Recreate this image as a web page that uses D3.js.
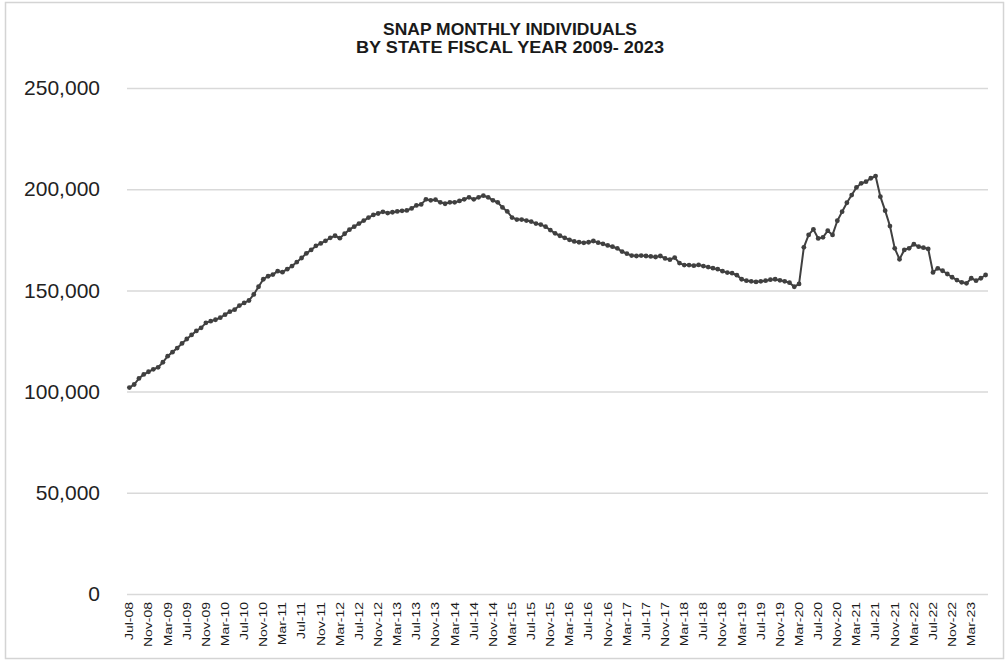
<!DOCTYPE html>
<html>
<head>
<meta charset="utf-8">
<script src="https://d3js.org/d3.v7.min.js"></script>
<style>
  body { margin: 0; background: #fff; }
  svg { display: block; font-family: "Liberation Sans", Arial, sans-serif; }
</style>
</head>
<body>
<div id="chart"></div>
<script>
// Monthly individuals (thousands), Jul-08 .. Jun-23, one row per state fiscal year
var fy2009 = [102.0, 103.5, 106.5, 108.5, 109.8, 111.0, 112.0, 114.5, 117.5, 119.5, 121.5, 123.8];
var fy2010 = [126.0, 128.0, 130.0, 131.5, 134.0, 134.8, 135.5, 136.5, 138.0, 139.5, 140.5, 142.5];
var fy2011 = [143.8, 145.0, 148.0, 151.8, 155.5, 157.0, 157.8, 159.5, 159.0, 160.5, 162.0, 164.0];
var fy2012 = [166.0, 168.3, 170.0, 172.0, 173.2, 174.5, 176.0, 177.0, 175.8, 178.0, 180.0, 181.5];
var fy2013 = [183.0, 184.5, 186.0, 187.3, 188.0, 188.8, 188.2, 188.6, 189.0, 189.3, 189.5, 190.5];
var fy2014 = [192.0, 192.5, 195.0, 194.5, 194.8, 193.5, 192.8, 193.5, 193.5, 194.2, 195.0, 196.0];
var fy2015 = [195.0, 196.0, 196.8, 196.0, 194.5, 193.5, 191.0, 189.0, 186.0, 185.0, 185.0, 184.5];
var fy2016 = [184.0, 183.0, 182.5, 181.5, 179.8, 178.2, 177.0, 176.0, 175.0, 174.2, 173.8, 173.5];
var fy2017 = [173.8, 174.4, 173.6, 173.0, 172.2, 171.6, 170.8, 169.2, 168.2, 167.2, 167.0, 167.2];
var fy2018 = [167.0, 166.8, 166.5, 167.0, 165.8, 165.2, 166.2, 163.5, 162.5, 162.5, 162.2, 162.6];
var fy2019 = [162.0, 161.5, 161.0, 160.5, 159.5, 158.8, 158.5, 157.5, 155.5, 154.8, 154.5, 154.2];
var fy2020 = [154.5, 154.8, 155.3, 155.5, 155.0, 154.5, 153.8, 151.8, 153.2, 171.3, 177.4, 180.2];
var fy2021 = [175.7, 176.2, 179.5, 177.4, 184.4, 188.9, 193.3, 197.1, 200.9, 202.9, 203.7, 205.4];
var fy2022 = [206.5, 196.3, 189.4, 181.8, 170.8, 165.4, 170.0, 170.8, 172.8, 171.6, 171.1, 170.5];
var fy2023 = [158.9, 160.9, 159.7, 158.1, 156.5, 155.1, 154.0, 153.5, 156.0, 154.8, 156.0, 157.6];

var monthNames = ["Jul", "Aug", "Sep", "Oct", "Nov", "Dec", "Jan", "Feb", "Mar", "Apr", "May", "Jun"];
var yTicks = [0, 50000, 100000, 150000, 200000, 250000];
var titleLines = ["SNAP MONTHLY INDIVIDUALS", "BY STATE FISCAL YEAR 2009- 2023"];

var years = [fy2009, fy2010, fy2011, fy2012, fy2013, fy2014, fy2015, fy2016,
             fy2017, fy2018, fy2019, fy2020, fy2021, fy2022, fy2023];

// build month labels like "Jul-08"
var data = [];
years.forEach((vals, y) => {
    vals.forEach((v, m) => {
        var yr = m < 6 ? 2008 + y : 2009 + y;
        data.push({
            label: monthNames[m] + "-" + String(yr % 100).padStart(2, "0"),
            value: v * 1000
        });
    });
});

var svgWidth = 1006;
var svgHeight = 661;
var margin = { top: 88, right: 18, bottom: 67, left: 127 };
var width = svgWidth - margin.left - margin.right;
var height = svgHeight - margin.top - margin.bottom;

var svg = d3.select("#chart").append("svg")
    .attr("width", svgWidth)
    .attr("height", svgHeight);

// outer frame
svg.append("rect")
    .attr("x", 5.5).attr("y", 2.5)
    .attr("width", 998).attr("height", 656)
    .attr("fill", "none")
    .attr("stroke", "#d4d4d4")
    .attr("stroke-width", 1.5);

// title (squeezed glyphs like the original)
svg.selectAll(".title")
    .data(titleLines)
    .enter()
    .append("text")
    .attr("class", "title")
    .attr("x", 510)
    .attr("y", (d, i) => 35 + i * 18)
    .attr("text-anchor", "middle")
    .attr("font-family", "'Liberation Sans Narrow', 'Arial Narrow', 'Liberation Sans', sans-serif")
    .attr("font-weight", "bold")
    .attr("font-size", "17px")
    .attr("fill", "#1a1a1a")
    .attr("textLength", (d, i) => i === 0 ? 254 : 308)
    .attr("lengthAdjust", "spacingAndGlyphs")
    .text(d => d);

var chartGroup = svg.append("g")
    .attr("transform", `translate(${margin.left}, ${margin.top})`);

var xScale = d3.scaleBand()
    .domain(data.map(d => d.label))
    .range([0, width])
    .paddingInner(0)
    .paddingOuter(0);

var yScale = d3.scaleLinear()
    .domain([0, 250000])
    .range([height, 0]);

// gridlines + y labels
var leftAxis = d3.axisLeft(yScale)
    .tickValues(yTicks)
    .tickSize(-width)
    .tickPadding(27)
    .tickFormat(d3.format(","));

var yAxis = chartGroup.append("g").call(leftAxis);
yAxis.select(".domain").remove();
yAxis.selectAll("line")
    .attr("stroke", "#d9d9d9")
    .attr("stroke-width", 1.5);
yAxis.selectAll("text")
    .attr("font-size", "21px")
    .attr("fill", "#222")
    .attr("font-family", "'Liberation Sans', Arial, sans-serif");

// x axis, every 4th month
var bottomAxis = d3.axisBottom(xScale)
    .tickValues(data.filter((d, i) => i % 4 === 0).map(d => d.label))
    .tickSize(0)
    .tickPadding(0);

var xAxis = chartGroup.append("g")
    .attr("transform", `translate(0, ${height})`)
    .call(bottomAxis);
xAxis.select(".domain").remove();
xAxis.selectAll("text")
    .attr("transform", "translate(0,8) scale(1,1.27) rotate(-90)")
    .attr("text-anchor", "end")
    .attr("x", 0)
    .attr("y", 0)
    .attr("dy", "0.35em")
    .attr("font-size", "11px")
    .attr("fill", "#1a1a1a")
    .attr("font-family", "'Liberation Sans', Arial, sans-serif");

var cx = d => xScale(d.label) + xScale.bandwidth() / 2;

var line = d3.line()
    .x(cx)
    .y(d => yScale(d.value));

chartGroup.append("path")
    .datum(data)
    .attr("fill", "none")
    .attr("stroke", "#404040")
    .attr("stroke-width", 2)
    .attr("d", line);

chartGroup.append("g")
    .selectAll("circle")
    .data(data)
    .enter()
    .append("circle")
    .attr("cx", cx)
    .attr("cy", d => yScale(d.value))
    .attr("r", 2.4)
    .attr("fill", "#404040");
</script>
</body>
</html>
